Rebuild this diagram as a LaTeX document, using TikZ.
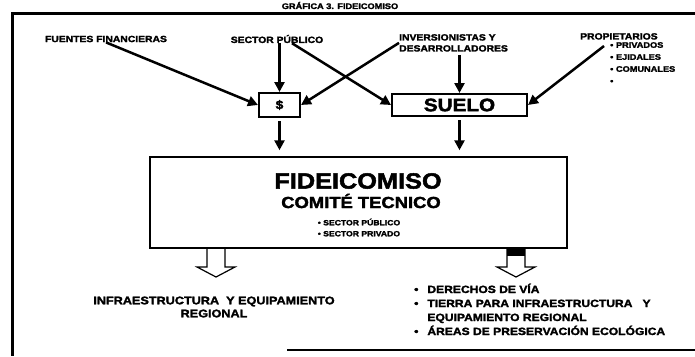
\documentclass[tikz,border=0pt]{standalone}
\usepackage{fontspec}
\setmainfont{Liberation Sans}[FakeStretch = 1.15, BoldFeatures = {FakeBold = 2.2}]
\usetikzlibrary{arrows.meta}
\tikzset{
  etiqueta/.style = {font = \bfseries\fontsize{9}{11}\selectfont, inner sep = 0pt},
  flecha/.style = {line width = 2.5pt, -{Triangle[length = 10pt, width = 10pt]}},
  caja/.style = {draw, line width = 2pt, inner sep = 0pt},
}
\begin{document}
\begin{tikzpicture}[x = 1pt, y = -1pt]
\useasboundingbox (0,0) rectangle (695,356);
\node[etiqueta, font = \bfseries\fontsize{8}{9}\selectfont] (titulo) at (340,5.5) {GRÁFICA 3. FIDEICOMISO};
\draw[line width = 3pt] (695,13) -- (12,13) -- (12,356);
\draw[line width = 2pt] (287,350) -- (695,350);
\node[etiqueta] (fuentes) at (106,39) {FUENTES FINANCIERAS};
\node[etiqueta] (sector) at (277,39) {SECTOR PÚBLICO};
\node[etiqueta, align = left, anchor = north west] (inversion) at (399,34) {INVERSIONISTAS Y\\DESARROLLADORES};
\node[etiqueta, anchor = north west] (propietarios) at (580,33) {PROPIETARIOS};
\node[etiqueta, font = \bfseries\fontsize{8}{12}\selectfont, align = left, anchor = north west] (clases) at (610,42) {• PRIVADOS\\• EJIDALES\\• COMUNALES\\ •};
\node[caja, minimum width = 41pt, minimum height = 24pt, font = \bfseries\fontsize{12}{12}\selectfont] (dinero) at (279.5,105) {\$};
\node[caja, minimum width = 135pt, minimum height = 22pt, font = \bfseries\fontsize{18}{18}\selectfont] (suelo) at (459.5,105) {SUELO};
\draw[flecha] (fuentes.south) -- (dinero.west);
\draw[flecha] (sector.south -| dinero.north) -- (dinero.north);
\draw[flecha] ([xshift = 15pt]sector.south) -- (suelo.west);
\draw[flecha] (inversion.west) -- (dinero.east);
\draw[flecha] ([yshift = -3pt]inversion.south -| suelo.north) -- (suelo.north);
\draw[flecha] ([xshift = -6pt, yshift = -4pt]clases.north west) -- (suelo.east);
\node[draw, line width = 1.5pt, minimum width = 417pt, minimum height = 91pt, inner sep = 0pt] (fideicomiso) at (358.5,202.5) {};
\draw[flecha, shorten < = 3pt, shorten > = 6pt] (dinero.south) -- (dinero.south |- fideicomiso.north);
\draw[flecha, shorten < = 3pt, shorten > = 6pt] (suelo.south) -- (suelo.south |- fideicomiso.north);
\node[etiqueta, font = \bfseries\fontsize{22}{22}\selectfont] (nombre) at (358,181) {FIDEICOMISO};
\node[etiqueta, font = \bfseries\fontsize{16}{16}\selectfont] (comite) at (361,201) {COMITÉ TECNICO};
\node[etiqueta, font = \bfseries\fontsize{7.5}{11}\selectfont, align = left] (sectores) at (359,227.5) {• SECTOR PÚBLICO\\• SECTOR PRIVADO};
\foreach \c in {216,516} \draw[line width = 1.2pt, line join = miter] (\c-9,248) -- (\c-9,267) -- (\c-19,267) -- (\c,277) -- (\c+19,267) -- (\c+9,267) -- (\c+9,248);
\fill (507,248) rectangle (525,256);
\node[etiqueta, font = \bfseries\fontsize{11}{13}\selectfont, align = center] (infra) at (214,307) {INFRAESTRUCTURA \ Y EQUIPAMIENTO\\REGIONAL};
\node[etiqueta, font = \bfseries\fontsize{10.5}{14}\selectfont, anchor = north west] (tierra) at (414,283) {\begin{tabular}{@{}l@{\hspace{9pt}}l@{}}• & DERECHOS DE VÍA\\ • & TIERRA PARA INFRAESTRUCTURA \ \ Y\\ & EQUIPAMIENTO REGIONAL\\ • & ÁREAS DE PRESERVACIÓN ECOLÓGICA\end{tabular}};
\end{tikzpicture}
\end{document}
